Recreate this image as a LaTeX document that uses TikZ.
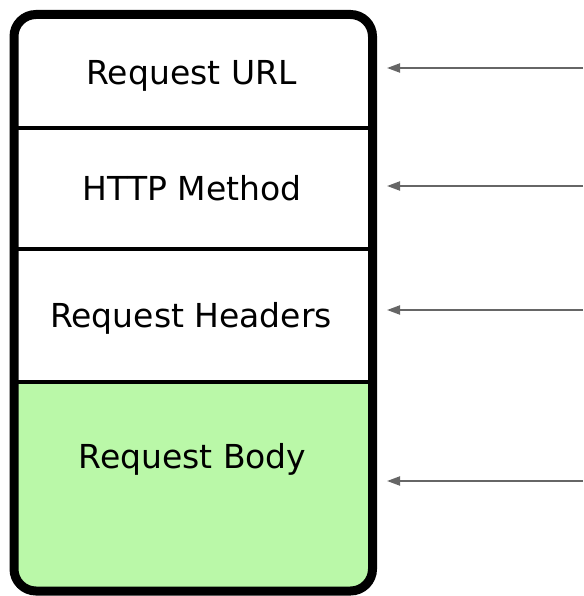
\documentclass[tikz,border=0pt]{standalone}
\usepackage{fontspec}
\setmainfont{DejaVu Sans}
\usetikzlibrary{arrows.meta}
\definecolor{bodygreen}{RGB}{186,248,168}
\definecolor{arrgray}{RGB}{102,102,102}
\tikzset{
  label/.style={anchor=base, inner sep=0pt, font=\fontsize{33}{40}\selectfont},
  divider/.style={line width=4pt, black},
  frame/.style={line width=9pt, black, rounded corners=22pt},
  pointer/.style={draw=arrgray, line width=2pt, -{Triangle[length=13pt,width=9pt]}, arrgray}
}
\begin{document}
\begin{tikzpicture}[x=1pt,y=-1pt]
\useasboundingbox (0,0) rectangle (583,596);
% green body section
\begin{scope}
  \clip[rounded corners=22pt] (14,14.5) rectangle (372.5,591);
  \fill[bodygreen] (14,382) rectangle (372.5,591);
\end{scope}
% dividers
\coordinate (d1l) at (14,128); \coordinate (d1r) at (372.5,128);
\coordinate (d2l) at (14,249); \coordinate (d2r) at (372.5,249);
\coordinate (d3l) at (14,382); \coordinate (d3r) at (372.5,382);
\draw[divider] (d1l) -- (d1r);
\draw[divider] (d2l) -- (d2r);
\draw[divider] (d3l) -- (d3r);
% frame
\draw[frame] (14,14.5) rectangle (372.5,591);
% labels
\node[label] (url) at (191.5,85) {Request URL};
\node[label] (method) at (192,200) {HTTP Method};
\node[label] (headers) at (191,327) {Request Headers};
\node[label] (body) at (192.5,468) {Request Body};
% arrows
\coordinate (s1) at (583,68);  \coordinate (t1) at (387,68);
\coordinate (s2) at (583,186); \coordinate (t2) at (387,186);
\coordinate (s3) at (583,310); \coordinate (t3) at (387,310);
\coordinate (s4) at (583,481); \coordinate (t4) at (387,481);
\draw[pointer] (s1) -- (t1);
\draw[pointer] (s2) -- (t2);
\draw[pointer] (s3) -- (t3);
\draw[pointer] (s4) -- (t4);
\end{tikzpicture}
\end{document}
